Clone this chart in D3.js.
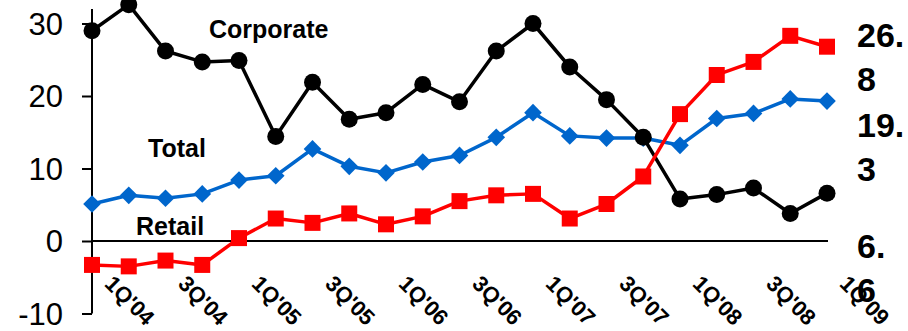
<!DOCTYPE html>
<html>
<head>
<meta charset="utf-8">
<script src="https://cdn.jsdelivr.net/npm/d3@7"></script>
<style>
  html, body { margin: 0; padding: 0; background: #fff; }
  svg { display: block; }
</style>
</head>
<body>
<svg id="chart" width="908" height="331"></svg>
<script>
// Quarterly figures, 1Q'04 through 1Q'09
const quarters = [
  "1Q'04", "2Q'04", "3Q'04", "4Q'04",
  "1Q'05", "2Q'05", "3Q'05", "4Q'05",
  "1Q'06", "2Q'06", "3Q'06", "4Q'06",
  "1Q'07", "2Q'07", "3Q'07", "4Q'07",
  "1Q'08", "2Q'08", "3Q'08", "4Q'08",
  "1Q'09"
];

const corporate = [29.0, 32.6, 26.2, 24.7, 24.9, 14.4, 21.9, 16.8, 17.7, 21.6, 19.2,
                   26.2, 30.0, 24.0, 19.5, 14.3, 5.8, 6.4, 7.3, 3.8, 6.6];
const total     = [5.1, 6.3, 5.9, 6.5, 8.4, 9.0, 12.7, 10.3, 9.4, 10.9, 11.8,
                   14.3, 17.7, 14.5, 14.2, 14.2, 13.2, 16.9, 17.6, 19.6, 19.3];
const retail    = [-3.3, -3.5, -2.7, -3.3, 0.4, 3.1, 2.5, 3.8, 2.3, 3.4, 5.5,
                   6.3, 6.5, 3.1, 5.1, 8.9, 17.5, 22.9, 24.7, 28.3, 26.8];

const yTicks = [-10, 0, 10, 20, 30];
const xTickLabels = ["1Q'04", "3Q'04", "1Q'05", "3Q'05", "1Q'06", "3Q'06",
                     "1Q'07", "3Q'07", "1Q'08", "3Q'08", "1Q'09"];

const svg = d3.select("#chart");
const FONT = "'Liberation Sans', Arial, Helvetica, sans-serif";

const x = d3.scalePoint().domain(quarters).range([92, 827]);
const y = d3.scaleLinear().domain([-10, 32]).range([313.5, 9]);

// Vertical axis with outward ticks
const yAxis = d3.axisLeft(y).tickValues(yTicks).tickSize(10).tickPadding(19)
  .tickSizeOuter(0).tickFormat(d => String(d));
const gy = svg.append("g").attr("transform", `translate(${x(quarters[0])},0)`).call(yAxis);
gy.select(".domain").attr("stroke", "#000").attr("stroke-width", 2)
  .attr("d", `M0,${y(-10)}V${y(32)}`);
gy.selectAll(".tick line").attr("stroke", "#000").attr("stroke-width", 2);
gy.selectAll(".tick text")
  .attr("font-family", FONT).attr("font-size", 31).attr("fill", "#000")
  .attr("dy", "0.35em");

// Zero baseline with rotated quarter labels below
const xAxis = d3.axisBottom(x).tickValues(xTickLabels).tickSize(0).tickSizeOuter(0);
const gx = svg.append("g").attr("transform", `translate(0,${y(0)})`).call(xAxis);
gx.select(".domain").attr("stroke", "#000").attr("stroke-width", 2)
  .attr("d", `M${x(quarters[0])},0H${x(quarters[quarters.length - 1]) + 1}`);
gx.selectAll(".tick text")
  .attr("font-family", FONT).attr("font-size", 22).attr("font-weight", "bold")
  .attr("fill", "#000")
  .attr("text-anchor", "start")
  .attr("x", 0).attr("y", 0).attr("dy", 0)
  .attr("transform", "translate(11,44) rotate(45)");

const series = [
  { name: "Total",     values: total,     color: "#0066CC", marker: "diamond",
    label: [148, 157], valueDy: 36 },
  { name: "Corporate", values: corporate, color: "#000000", marker: "circle",
    label: [209, 38],  valueDy: 65 },
  { name: "Retail",    values: retail,    color: "#FF0000", marker: "square",
    label: [136, 235], valueDy: 0 }
];

const line = d3.line().x((d, i) => x(quarters[i])).y(d => y(d));

const symbolFor = {
  circle:  d3.symbol().type(d3.symbolCircle).size(Math.PI * 8.5 * 8.5),
  square:  d3.symbol().type(d3.symbolSquare).size(16 * 16),
  diamond: d3.symbol().type(d3.symbolSquare).size(12.5 * 12.5)
};

series.forEach(s => {
  const g = svg.append("g");
  g.append("path")
    .attr("d", line(s.values))
    .attr("fill", "none")
    .attr("stroke", s.color)
    .attr("stroke-width", 3.5)
    .attr("stroke-linejoin", "round");
  g.selectAll("path.mark")
    .data(s.values)
    .join("path")
    .attr("class", "mark")
    .attr("d", symbolFor[s.marker])
    .attr("fill", s.color)
    .attr("transform", (d, i) =>
      `translate(${x(quarters[i])},${y(d)})` + (s.marker === "diamond" ? " rotate(45)" : ""));
});

// Series names
series.forEach(s => {
  svg.append("text")
    .attr("x", s.label[0]).attr("y", s.label[1])
    .attr("font-family", FONT).attr("font-size", 25).attr("font-weight", "bold")
    .attr("fill", "#000")
    .text(s.name);
});

// Latest-quarter values at the right edge, wrapped after the decimal point
series.forEach(s => {
  const v = s.values[s.values.length - 1];
  const str = d3.format(".1f")(v);
  const cut = str.indexOf(".") + 1;
  const t = svg.append("text")
    .attr("x", 857)
    .attr("y", y(v) + s.valueDy)
    .attr("font-family", FONT).attr("font-size", 34).attr("font-weight", "bold")
    .attr("fill", "#000");
  t.append("tspan").attr("x", 857).text(str.slice(0, cut));
  t.append("tspan").attr("x", 857).attr("dy", 44).text(str.slice(cut));
});
</script>
</body>
</html>
